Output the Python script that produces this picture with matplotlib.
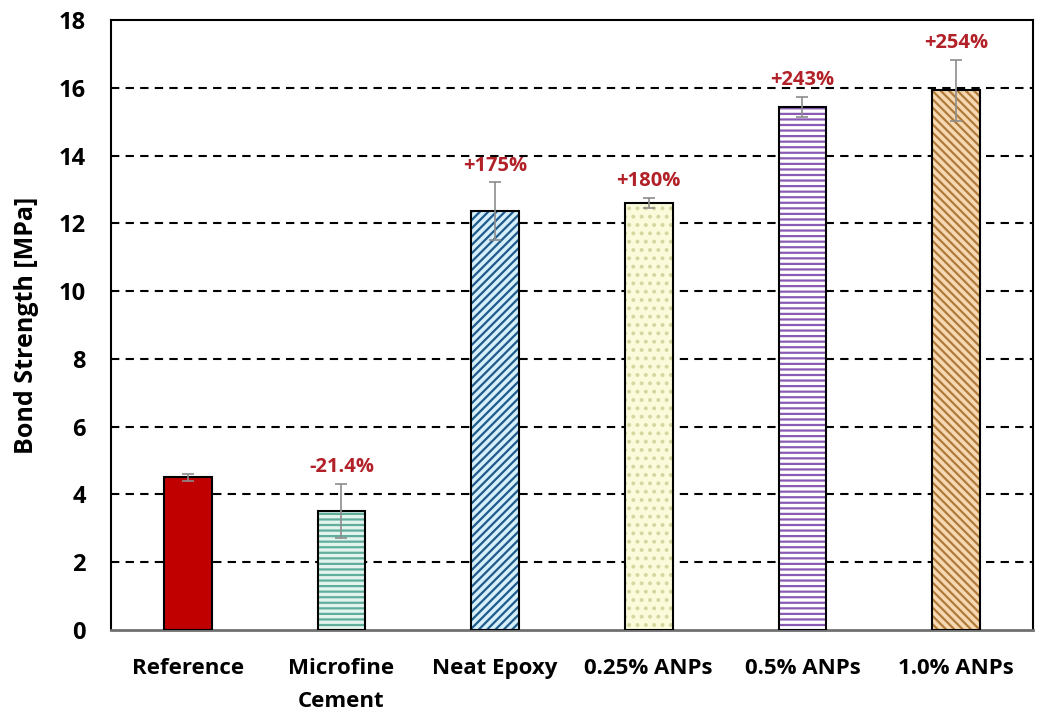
import matplotlib.pyplot as plt
import numpy as np

plt.rcParams['font.family'] = ['Open Sans', 'DejaVu Sans']
plt.rcParams['hatch.linewidth'] = 1.6

categories = ['Reference', 'Microfine\nCement', 'Neat Epoxy', '0.25% ANPs', '0.5% ANPs', '1.0% ANPs']
strength = [4.5, 3.52, 12.36, 12.6, 15.43, 15.92]
errors = [0.1, 0.8, 0.85, 0.15, 0.3, 0.9]
labels = ['', '-21.4%', '+175%', '+180%', '+243%', '+254%']

face_colors = ['#c00000', '#e3f3ee', '#d6f0fb', '#fbfbdc', '#ffffff', '#f6d9b3']
hatch_colors = ['#c00000', '#5fae9c', '#1f5b8c', '#d6d6a0', '#8a5bb5', '#b07a3a']
hatches = [None, '---', '////', '..', '---', '\\\\\\\\']

fig = plt.figure(figsize=(10.37, 7.15), dpi=100)
ax = fig.add_axes([0.107, 0.119, 0.889, 0.853])

x = np.arange(len(categories))
w = 0.31

ax.set_ylim(0, 18)
ax.set_xlim(-0.5, len(categories) - 0.5)
ax.set_yticks(np.arange(0, 19, 2))
for yv in np.arange(2, 18, 2):
    ax.axhline(yv, color='black', linestyle=(0, (4, 3)), linewidth=1.5, zorder=1)

for i in range(len(categories)):
    ax.bar(x[i], strength[i], w, color=face_colors[i], edgecolor='none', zorder=2)
    if hatches[i]:
        ax.bar(x[i], strength[i], w, color='none', edgecolor=hatch_colors[i],
               hatch=hatches[i], linewidth=0, zorder=3)
    ax.bar(x[i], strength[i], w, color='none', edgecolor='black', linewidth=1.5, zorder=4)

ax.errorbar(x, strength, yerr=errors, fmt='none', ecolor='#8c8c8c',
            elinewidth=1.2, capsize=4, capthick=1.2, zorder=5)

for i in range(len(categories)):
    if labels[i]:
        ax.text(x[i], strength[i] + errors[i] + 0.2, labels[i], ha='center', va='bottom',
                color='#b22028', fontsize=14.5, fontweight='bold')

ax.set_xticks(x)
ax.set_xticklabels(categories, fontsize=16, fontweight='bold', linespacing=1.75)
ax.set_ylabel('Bond Strength [MPa]', fontsize=18, fontweight='bold', labelpad=14)
for t in ax.get_yticklabels():
    t.set_fontsize(17)
    t.set_fontweight('bold')
ax.tick_params(axis='x', length=0, pad=20)
ax.tick_params(axis='y', length=0, pad=18)

for s in ['left', 'top', 'right']:
    ax.spines[s].set_color('black')
    ax.spines[s].set_linewidth(1.5)
ax.spines['bottom'].set_color('#707070')
ax.spines['bottom'].set_linewidth(2)

fig.savefig('out.png', dpi=100)
